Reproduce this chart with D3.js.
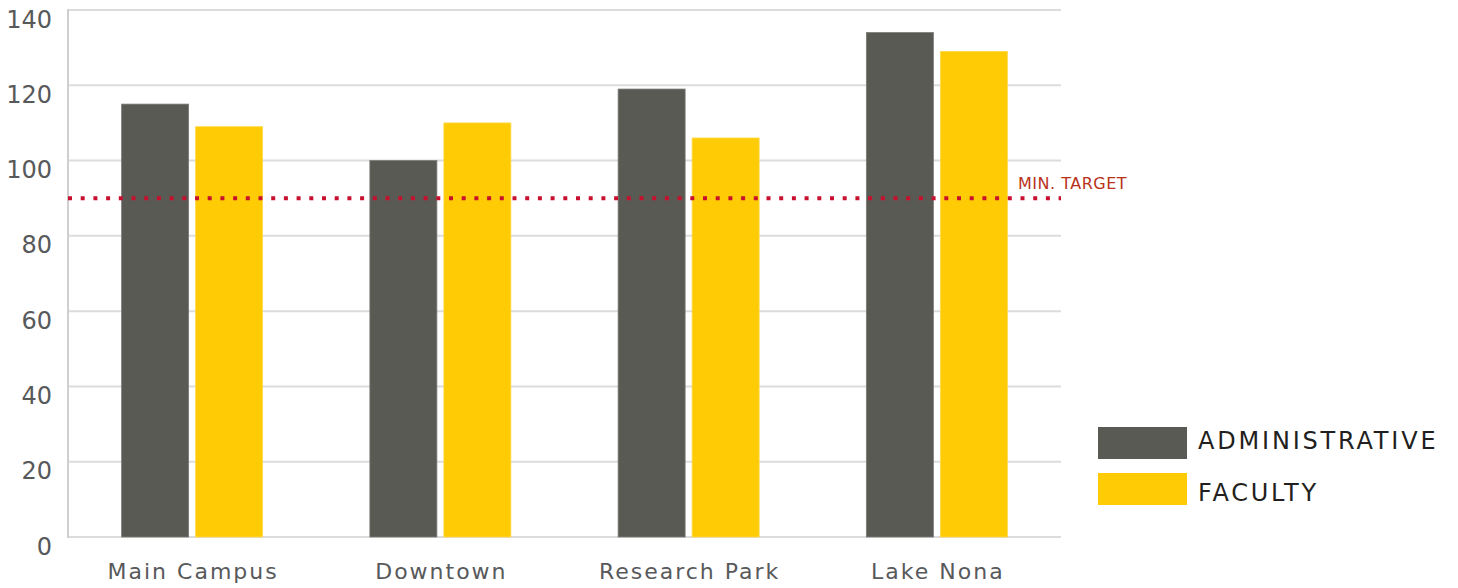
<!DOCTYPE html>
<html><head><meta charset="utf-8">
<script src="https://cdn.jsdelivr.net/npm/d3@7"></script>
<style>
html,body{margin:0;padding:0;background:#fff;}
svg{display:block;font-family:"DejaVu Sans",sans-serif;}
</style></head>
<body>
<svg id="chart" width="1458" height="588"></svg>
<script>
const categories = ["Main Campus", "Downtown", "Research Park", "Lake Nona"];
const seriesNames = ["ADMINISTRATIVE", "FACULTY"];
const administrative = [115, 100, 119, 134];
const faculty = [109, 110, 106, 129];
const yTicks = [0, 20, 40, 60, 80, 100, 120, 140];
const minTarget = 90;
const targetLabel = "MIN. TARGET";
const colors = ["#5a5a55", "#ffcb05"];

(function () {
const svg = d3.select("#chart");
const mLeft = 68, mRight = 1061, mTop = 10, mBottom = 537;

const x = d3.scaleBand().domain(categories).range([mLeft, mRight]).padding(0);
const y = d3.scaleLinear().domain([0, 140]).range([mBottom, mTop]);
const barW = 67, gap = 7;
const x1 = d3.scaleOrdinal().domain(seriesNames).range([-(barW + gap / 2), gap / 2]);

// gridlines
svg.append("g").selectAll("line").data(yTicks).join("line")
  .attr("x1", mLeft).attr("x2", mRight)
  .attr("y1", d => y(d)).attr("y2", d => y(d))
  .attr("stroke", "#dcdcdc").attr("stroke-width", 2);

// y axis line
svg.append("line").attr("x1", mLeft).attr("x2", mLeft).attr("y1", mTop - 1).attr("y2", mBottom + 1)
  .attr("stroke", "#cfcfcf").attr("stroke-width", 2);

// y tick labels
svg.append("g").selectAll("text").data(yTicks).join("text")
  .attr("x", 52).attr("y", d => y(d) + 17.5)
  .attr("text-anchor", "end")
  .attr("font-size", 24).attr("fill", "#58595b")
  .text(d => d);

// bars
const rows = categories.map((c, i) => ({c, vals: [administrative[i], faculty[i]]}));
const g = svg.append("g");
rows.forEach(r => {
  r.vals.forEach((v, j) => {
    g.append("rect")
      .attr("x", x(r.c) + x.bandwidth() / 2 + x1(seriesNames[j]))
      .attr("y", y(v))
      .attr("width", barW)
      .attr("height", y(0) - y(v))
      .attr("fill", colors[j])
      .attr("stroke", j === 0 ? "#7a7a75" : "#ffd84a").attr("stroke-width", 0.8);
  });
});

// x labels
svg.append("g").selectAll("text").data(categories).join("text")
  .attr("x", d => x(d) + x.bandwidth() / 2 + 1)
  .attr("y", 579)
  .attr("text-anchor", "middle")
  .attr("font-size", 22).attr("letter-spacing", 2).attr("fill", "#58595b")
  .text(d => d);

// target line
svg.append("line")
  .attr("x1", mLeft).attr("x2", mRight)
  .attr("y1", y(minTarget)).attr("y2", y(minTarget))
  .attr("stroke", "#c8102e").attr("stroke-width", 4)
  .attr("stroke-dasharray", "4,8.7");

svg.append("text")
  .attr("x", 1018).attr("y", 189)
  .attr("font-size", 16).attr("letter-spacing", 0.5).attr("fill", "#b8321a")
  .text(targetLabel);

// legend
const lg = svg.append("g");
const rectY = [427, 473], textY = [449.3, 501];
seriesNames.forEach((s, i) => {
  lg.append("rect").attr("x", 1098).attr("y", rectY[i]).attr("width", 89).attr("height", 32).attr("fill", colors[i]);
  lg.append("text").attr("x", 1198).attr("y", textY[i])
    .attr("font-size", 24).attr("letter-spacing", 2.8).attr("fill", "#231f20").text(s);
});
})();
</script>
</body></html>
